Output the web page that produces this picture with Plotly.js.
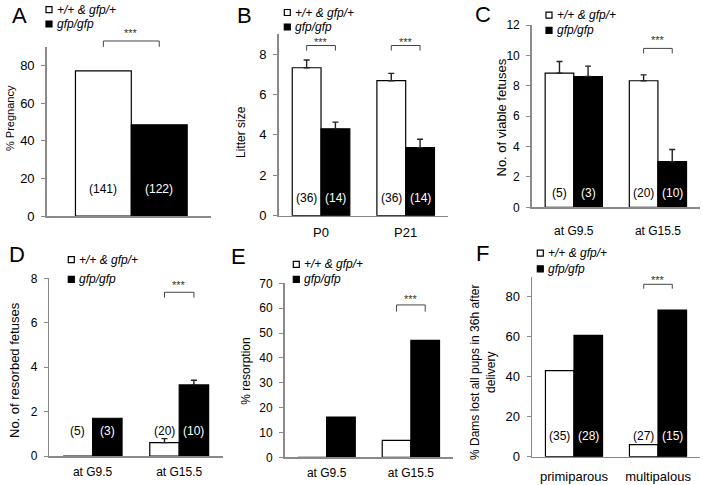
<!DOCTYPE html>
<html>
<head>
<meta charset="utf-8">
<script src="https://cdn.plot.ly/plotly-3.0.1.min.js"></script>
<style>
  html, body { margin: 0; padding: 0; background: #fff; }
  #chart { width: 703px; height: 485px; }
</style>
</head>
<body>
<div id="chart"></div>
<script>
    // genotype groups (legend text)
    const groupLabels = ['+/+ &amp; gfp/+', 'gfp/gfp'];

    // A: % pregnancy
    const pregCats = ['pregnancy'];
    const pregWt = [77.3];
    const pregKo = [48.6];
    const pregNWt = [141];
    const pregNKo = [122];
    const pregSig = [0];

    // B: litter size
    const litterCats = ['P0', 'P21'];
    const litterWt = [7.32, 6.68];
    const litterWtErr = [0.38, 0.36];
    const litterKo = [4.30, 3.37];
    const litterKoErr = [0.33, 0.41];
    const litterNWt = [36, 36];
    const litterNKo = [14, 14];
    const litterSig = [0, 1];

    // C: viable fetuses
    const stageCats = ['at G9.5', 'at G15.5'];
    const viableWt = [8.83, 8.33];
    const viableWtErr = [0.77, 0.39];
    const viableKo = [8.61, 3.0];
    const viableKoErr = [0.68, 0.8];
    const stageNWt = [5, 20];
    const stageNKo = [3, 10];
    const viableSig = [1];

    // D: resorbed fetuses
    const resorbedWt = [0, 0.6];
    const resorbedWtErr = [null, 0.18];
    const resorbedKo = [1.7, 3.2];
    const resorbedKoErr = [null, 0.21];
    const resorbedSig = [1];

    // E: % resorption
    const resorptionWt = [0, 6.8];
    const resorptionKo = [16.2, 47];
    const resorptionSig = [1];

    // F: dams that lost all pups
    const parityCats = ['primiparous', 'multipalous'];
    const damsWt = [43, 6];
    const damsKo = [60.7, 73.3];
    const damsNWt = [35, 27];
    const damsNKo = [28, 15];
    const damsSig = [1];

    const W = 703, H = 485;
    const BARGAP = 0.32;
    const off = (1 - BARGAP) / 4;
    const FONT = 'Liberation Sans, Arial, sans-serif';
    const AXIS = '#8a8a8a';

    const px = v => v / W;
    const py = v => 1 - v / H;

    // panel frames in pixels + per-panel text positions
    const panels = [
        {letter: 'A', lx: 19, ly: 15, cats: pregCats, wt: pregWt, ko: pregKo, nWt: pregNWt, nKo: pregNKo, sig: pregSig,
         xl: 46.7, xr: 211, y0: 216, y1: 47, xrange: [-0.515, 0.485], ymax: 90, dtick: 20, nY: 14.4,
         br: [90.1, 93.2, 97.3], tick: 13, xstand: 4, showx: false,
         title: '% Pregnancy', tx: 10, ty: 118, tsize: 11, legX: 46, legY: [9.7, 24]},
        {letter: 'B', lx: 244, ly: 15, cats: litterCats, wt: litterWt, ko: litterKo, wtErr: litterWtErr, koErr: litterKoErr,
         nWt: litterNWt, nKo: litterNKo, sig: litterSig,
         xl: 278.7, xr: 448, y0: 215.7, y1: 33.8, xrange: [-0.5, 1.5], ymax: 9, dtick: 2, nY: 0.88,
         br: [8.17, 8.42, 8.61], tick: 13, xstand: 4, showx: true,
         title: 'Litter size', tx: 241.5, ty: 132.5, tsize: 12, legX: 284.3, legY: [12.5, 27]},
        {letter: 'C', lx: 482.5, ly: 14.5, cats: stageCats, wt: viableWt, ko: viableKo, wtErr: viableWtErr, koErr: viableKoErr,
         nWt: stageNWt, nKo: stageNKo, sig: viableSig,
         xl: 531.7, xr: 700, y0: 207.3, y1: 25, xrange: [-0.5, 1.5], ymax: 12, dtick: 2, nY: 0.96,
         br: [10.13, 10.46, 11.0], tick: 12, xstand: 12, showx: true,
         title: 'No. of viable fetuses', tx: 501, ty: 117.5, tsize: 13, legX: 546, legY: [15.2, 30.3]},
        {letter: 'D', lx: 16.5, ly: 254, cats: stageCats, wt: resorbedWt, ko: resorbedKo, wtErr: resorbedWtErr, koErr: resorbedKoErr,
         nWt: stageNWt, nKo: stageNKo, sig: resorbedSig,
         xl: 49.3, xr: 222.5, y0: 456, y1: 278.3, xrange: [-0.5, 1.5], ymax: 8, dtick: 2, nY: 1.14,
         br: [7.13, 7.37, 7.7], tick: 12, xstand: 4, showx: true,
         title: 'No. of resorbed fetuses', tx: 14, ty: 370, tsize: 13, legX: 68.3, legY: [259.7, 279.3]},
        {letter: 'E', lx: 238.5, ly: 256.5, cats: stageCats, wt: resorptionWt, ko: resorptionKo,
         sig: resorptionSig,
         xl: 284.5, xr: 453, y0: 457.3, y1: 283.3, xrange: [-0.5, 1.5], ymax: 70, dtick: 10,
         br: [58.6, 61.3, 63.6], tick: 12, xstand: 4, showx: true,
         title: '% resorption', tx: 246, ty: 371.7, tsize: 12, legX: 293.3, legY: [264.3, 279.3]},
        {letter: 'F', lx: 482.5, ly: 253.5, cats: parityCats, wt: damsWt, ko: damsKo,
         nWt: damsNWt, nKo: damsNKo, sig: damsSig,
         xl: 532, xr: 700, y0: 456.7, y1: 276.7, xrange: [-0.5, 1.5], ymax: 90, dtick: 20, nY: 10.3,
         br: [84, 86.2, 88.3], tick: 13, xstand: 7, showx: true,
         title: '% Dams lost all pups in 36h after<br>delivery', tx: 483, ty: 373, tsize: 12, legX: 537.3, legY: [253.2, 268.8]}
    ];

    function errY(err) {
        if (!err) return {visible: false};
        return {
            type: 'data', symmetric: false,
            array: err.map(e => e === null ? undefined : e),
            arrayminus: err.map(e => e === null ? undefined : 0),
            color: '#222', thickness: 1.4, width: 3
        };
    }

    const data = [];
    const layout = {
        width: W, height: H,
        margin: {l: 0, r: 0, t: 0, b: 0},
        paper_bgcolor: '#fff', plot_bgcolor: '#fff',
        showlegend: false,
        barmode: 'group', bargap: BARGAP, bargroupgap: 0,
        font: {family: FONT, color: '#000'},
        annotations: [], shapes: []
    };

    panels.forEach((p, i) => {
        const n = i + 1;
        const sfx = n === 1 ? '' : n;
        const xa = 'x' + sfx, ya = 'y' + sfx;

        [[p.wt, p.wtErr, '#fff'], [p.ko, p.koErr, '#000']].forEach(([vals, err, fill]) => {
            data.push({
                type: 'bar', x: p.cats, y: vals, xaxis: xa, yaxis: ya,
                marker: {color: fill, line: {color: '#000', width: 1.2}},
                error_y: errY(err), hoverinfo: 'skip'
            });
        });

        layout['xaxis' + sfx] = {
            domain: [px(p.xl), px(p.xr)], anchor: ya, type: 'category', range: p.xrange,
            showline: true, linecolor: AXIS, linewidth: 1.5, ticks: '', showgrid: false, zeroline: false,
            showticklabels: p.showx, ticklabelstandoff: p.xstand,
            tickfont: {family: FONT, size: p.tick, color: '#000'}, fixedrange: true
        };
        layout['yaxis' + sfx] = {
            domain: [py(p.y0), py(p.y1)], anchor: xa, range: [0, p.ymax], dtick: p.dtick,
            showline: true, linecolor: AXIS, linewidth: 1.5, ticks: 'outside', ticklen: 4, tickcolor: AXIS,
            showgrid: false, zeroline: false, ticklabelstandoff: 4,
            tickfont: {family: FONT, size: p.tick, color: '#000'}, fixedrange: true
        };

        // panel letter
        layout.annotations.push({
            xref: 'paper', yref: 'paper', x: px(p.lx), y: py(p.ly), text: p.letter, showarrow: false,
            xanchor: 'center', yanchor: 'middle', font: {family: FONT, size: 22, color: '#000'}
        });

        // y title
        layout.annotations.push({
            xref: 'paper', yref: 'paper', x: px(p.tx), y: py(p.ty), text: p.title, showarrow: false,
            textangle: -90, xanchor: 'center', yanchor: 'middle',
            font: {family: FONT, size: p.tsize, color: '#000'}
        });

        // legend rows: key square + italic label
        const fills = ['#fff', '#000'];
        groupLabels.forEach((g, j) => {
            const cy = p.legY[j];
            layout.shapes.push({
                type: 'rect', xref: 'paper', yref: 'paper',
                x0: px(p.legX), x1: px(p.legX + 6), y0: py(cy - 3), y1: py(cy + 3),
                fillcolor: fills[j], line: {color: '#000', width: 1.2}
            });
            layout.annotations.push({
                xref: 'paper', yref: 'paper', x: px(p.legX + 8.5), y: py(cy),
                text: '<i>' + g + '</i>', showarrow: false,
                xanchor: 'left', yanchor: 'middle', font: {family: FONT, size: 12, color: '#000'}
            });
        });

        // sample sizes
        if (p.nWt) {
            p.cats.forEach((c, j) => {
                layout.annotations.push({
                    xref: xa, yref: ya, x: j - off, y: p.nY, text: '(' + p.nWt[j] + ')', showarrow: false,
                    font: {family: FONT, size: 12, color: '#000'}
                });
                layout.annotations.push({
                    xref: xa, yref: ya, x: j + off, y: p.nY, text: '(' + p.nKo[j] + ')', showarrow: false,
                    font: {family: FONT, size: 12, color: '#fff'}
                });
            });
        }

        // significance brackets
        const fx = v => (v - p.xrange[0]) / (p.xrange[1] - p.xrange[0]);
        const fy = v => v / p.ymax;
        p.sig.forEach(j => {
            const a = fx(j - off), b = fx(j + off);
            layout.shapes.push({
                type: 'path', xref: xa + ' domain', yref: ya + ' domain',
                path: `M ${a} ${fy(p.br[0])} L ${a} ${fy(p.br[1])} L ${b} ${fy(p.br[1])} L ${b} ${fy(p.br[0])}`,
                line: {color: '#444', width: 1}
            });
            layout.annotations.push({
                xref: xa + ' domain', yref: ya + ' domain', x: (a + b) / 2, y: fy(p.br[2]),
                text: '***', showarrow: false, xanchor: 'center', yanchor: 'middle',
                font: {family: FONT, size: 11, color: '#333'}
            });
        });
    });

    Plotly.newPlot('chart', data, layout, {staticPlot: true, displayModeBar: false});
</script>
</body>
</html>
